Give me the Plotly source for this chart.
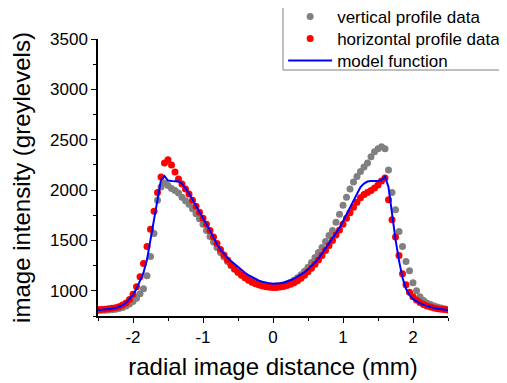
import plotly.graph_objects as go

x_mm = [-2.50, -2.45, -2.40, -2.35, -2.30, -2.25, -2.20, -2.15, -2.10, -2.05,
        -2.00, -1.95, -1.90, -1.85, -1.80, -1.75, -1.70, -1.65, -1.60, -1.55,
        -1.50, -1.45, -1.40, -1.35, -1.30, -1.25, -1.20, -1.15, -1.10, -1.05,
        -1.00, -0.95, -0.90, -0.85, -0.80, -0.75, -0.70, -0.65, -0.60, -0.55,
        -0.50, -0.45, -0.40, -0.35, -0.30, -0.25, -0.20, -0.15, -0.10, -0.05,
        0.00, 0.05, 0.10, 0.15, 0.20, 0.25, 0.30, 0.35, 0.40, 0.45,
        0.50, 0.55, 0.60, 0.65, 0.70, 0.75, 0.80, 0.85, 0.90, 0.95,
        1.00, 1.05, 1.10, 1.15, 1.20, 1.25, 1.30, 1.35, 1.40, 1.45,
        1.50, 1.55, 1.60, 1.65, 1.70, 1.75, 1.80, 1.85, 1.90, 1.95,
        2.00, 2.05, 2.10, 2.15, 2.20, 2.25, 2.30, 2.35, 2.40, 2.45, 2.50]

vertical_profile = [805, 806, 808, 810, 813, 818, 825, 835, 850, 870,
                    895, 925, 970, 1020, 1150, 1340, 1570, 1900, 2030, 2070,
                    2045, 2015, 1995, 1970, 1930, 1895, 1860, 1815, 1765, 1715,
                    1660, 1600, 1540, 1485, 1430, 1380, 1335, 1290, 1250, 1215,
                    1185, 1160, 1135, 1115, 1095, 1080, 1068, 1058, 1052, 1048,
                    1046, 1048, 1053, 1060, 1070, 1085, 1105, 1130, 1160, 1195,
                    1235, 1280, 1330, 1380, 1430, 1490, 1550, 1600, 1680, 1760,
                    1850, 1930, 2010, 2080, 2135, 2185, 2230, 2270, 2330, 2380,
                    2410, 2430, 2410, 2200, 1975, 1805, 1590, 1440, 1290, 1200,
                    1080, 1000, 940, 905, 880, 865, 850, 840, 830, 822, 815]

horizontal_profile = [815, 815, 818, 822, 826, 832, 842, 858, 880, 915,
                      965, 1040, 1140, 1270, 1440, 1610, 1790, 1975, 2130, 2270,
                      2300, 2250, 2180, 2110, 2060, 2010, 1960, 1900, 1840, 1780,
                      1720, 1660, 1600, 1535, 1470, 1410, 1355, 1305, 1260, 1220,
                      1185, 1155, 1130, 1105, 1085, 1070, 1058, 1048, 1040, 1035,
                      1032, 1033, 1037, 1043, 1052, 1065, 1080, 1100, 1125, 1155,
                      1190, 1225, 1265, 1305, 1350, 1400, 1450, 1500, 1555, 1605,
                      1660, 1720, 1775, 1830, 1880, 1925, 1955, 1975, 1995, 2020,
                      2050, 2090, 2120, 1905, 1705, 1535, 1350, 1170, 1060, 985,
                      940, 910, 885, 865, 850, 840, 830, 823, 818, 814, 810]

model_function = [810, 812, 815, 818, 822, 830, 840, 855, 880, 915,
                  960, 1020, 1100, 1180, 1310, 1510, 1700, 1900, 2100, 2140,
                  2095, 2090, 2090, 2085, 2065, 2020, 1965, 1905, 1845, 1790,
                  1730, 1670, 1600, 1530, 1460, 1410, 1365, 1325, 1295, 1265,
                  1235, 1205, 1180, 1155, 1135, 1115, 1100, 1090, 1080, 1074,
                  1070, 1070, 1074, 1080, 1090, 1105, 1120, 1140, 1160, 1185,
                  1215, 1245, 1280, 1320, 1370, 1420, 1470, 1520, 1570, 1625,
                  1690, 1760, 1830, 1900, 1970, 2030, 2065, 2085, 2090, 2090,
                  2090, 2100, 2135, 2030, 1740, 1510, 1300, 1130, 1020, 960,
                  920, 895, 875, 860, 848, 838, 830, 823, 818, 814, 810]

x_ticks = [-2, -1, 0, 1, 2]
x_tick_labels = ["-2", "-1", "0", "1", "2"]
y_ticks = [1000, 1500, 2000, 2500, 3000, 3500]
y_tick_labels = ["1000", "1500", "2000", "2500", "3000", "3500"]

FONT = "Liberation Sans, Arial, sans-serif"

fig = go.Figure()
fig.add_trace(go.Scatter(x=x_mm, y=vertical_profile, mode="markers",
                         name="vertical profile data", legend="legend",
                         marker=dict(color="#808080", size=7)))
fig.add_trace(go.Scatter(x=x_mm, y=horizontal_profile, mode="markers",
                         name="horizontal profile data", legend="legend2",
                         marker=dict(color="#ff0000", size=7)))
fig.add_trace(go.Scatter(x=x_mm, y=model_function, mode="lines",
                         name="model function", legend="legend3",
                         line=dict(color="#0000ff", width=2)))

axis_common = dict(showline=True, linecolor="black", linewidth=1.5,
                   ticks="outside", ticklen=5, tickwidth=1.2, tickcolor="black",
                   showgrid=False, zeroline=False, mirror=False,
                   tickfont=dict(family=FONT, size=17, color="black"))


def row_legend(yc):
    return dict(x=0.529, y=yc, xanchor="left", yanchor="middle",
                bgcolor="rgba(0,0,0,0)", borderwidth=0,
                font=dict(family=FONT, size=17, color="black"), itemwidth=44)


box_line = dict(color="#808080", width=1)
BX0, BX1, BY0, BY1 = 0.5286, 1.25, 0.888, 1.1227

fig.update_layout(
    width=499, height=375,
    margin=dict(l=90, r=59, t=31, b=67, autoexpand=False),
    paper_bgcolor="white", plot_bgcolor="white",
    font=dict(family=FONT, color="black"),
    xaxis=dict(range=[-2.5, 2.5], tickvals=x_ticks, ticktext=x_tick_labels,
               minor=dict(ticks="outside", ticklen=3, dtick=0.5, tickcolor="black"),
               title=dict(text="radial image distance (mm)",
                          font=dict(family=FONT, size=24), standoff=12),
               **axis_common),
    yaxis=dict(range=[750, 3500], tickvals=y_ticks, ticktext=y_tick_labels,
               minor=dict(ticks="outside", ticklen=3, dtick=250, tickcolor="black"),
               title=dict(text="image intensity (greylevels)",
                          font=dict(family=FONT, size=24), standoff=14),
               **axis_common),
    legend=row_legend(1.0794),
    legend2=row_legend(1.0),
    legend3=row_legend(0.9206),
    shapes=[
        dict(type="line", xref="paper", yref="paper", x0=BX0, x1=BX0,
             y0=BY0, y1=BY1, line=box_line),
        dict(type="line", xref="paper", yref="paper", x0=BX0, x1=BX1,
             y0=BY0, y1=BY0, line=box_line),
        dict(type="line", xref="paper", yref="paper", x0=BX0, x1=BX1,
             y0=BY1, y1=BY1, line=box_line),
    ],
    showlegend=True,
)

fig.write_html("out.html")
